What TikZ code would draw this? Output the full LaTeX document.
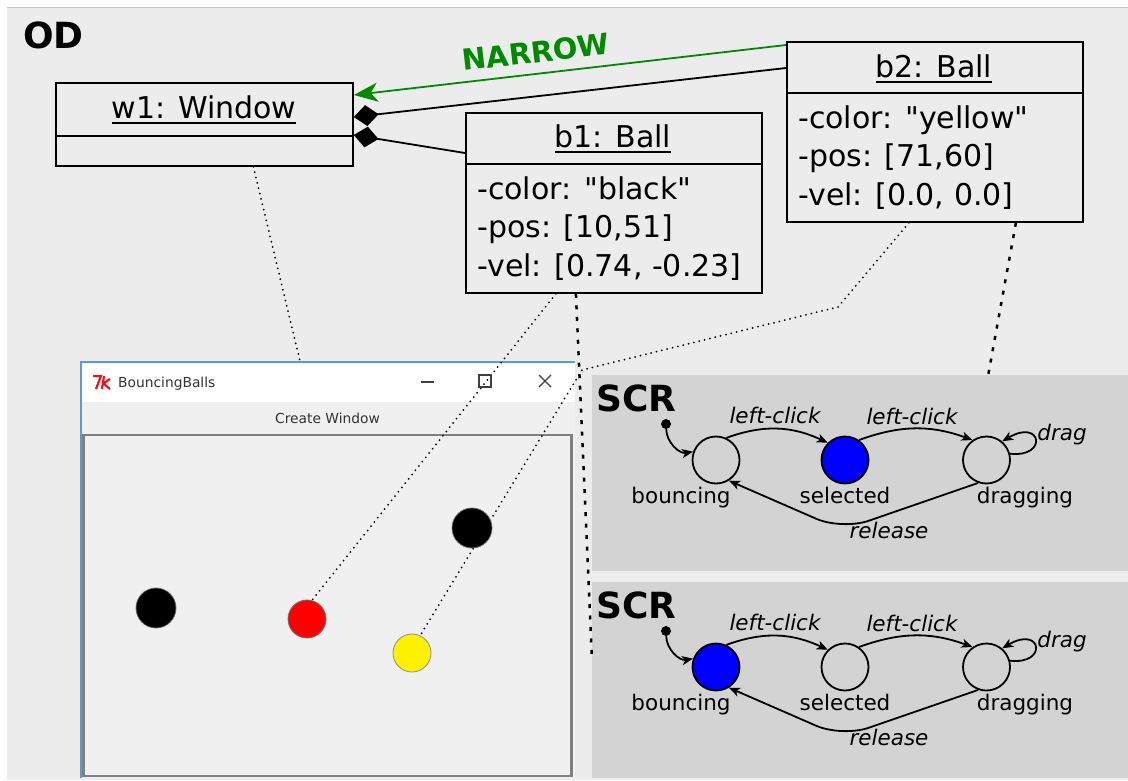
\documentclass[tikz,border=0pt]{standalone}
\usepackage{fontspec}
\setmainfont{DejaVu Sans}[Ligatures=TeXOff]
\usetikzlibrary{arrows.meta,calc}
\definecolor{bgc}{HTML}{ECECEC}
\definecolor{panelc}{HTML}{D3D3D3}
\definecolor{canvc}{HTML}{F0F0F0}
\definecolor{winblue}{HTML}{5B9BD5}
\definecolor{narrowc}{HTML}{008A00}
\definecolor{tkred}{HTML}{E8141C}
\newcommand{\myul}[1]{\setbox0=\hbox{#1}\rlap{\raisebox{-5.5pt}{\rule{\wd0}{2pt}}}\box0}
\pgfdeclarelayer{back}
\pgfdeclarelayer{lines}
\pgfsetlayers{back,lines,main}
\begin{document}
\begin{tikzpicture}[x=1pt,y=-1pt,
 boxn/.style={draw, line width=1.8pt, inner sep=0, anchor=north west},
 bline/.style={line width=1.8pt},
 titlef/.style={font=\fontsize{30}{36}\selectfont, inner sep=0, anchor=base},
 attrf/.style={font=\fontsize{30}{36}\selectfont, inner sep=0, anchor=base west},
 fdot/.style={line width=2pt, dash pattern=on 0pt off 5.5pt, line cap=round},
 hdot/.style={line width=2.5pt, dash pattern=on 4pt off 7.5pt},
 ball/.style={circle, inner sep=0, minimum size=#1, line width=0.8pt},
 state/.style={circle, draw, line width=1.8pt, minimum size=47pt, inner sep=0},
 slab/.style={font=\fontsize{21.5}{26}\selectfont, inner sep=0, anchor=base},
 elab/.style={font=\fontsize{21.5}{26}\selectfont\itshape, inner sep=0, anchor=base},
 sarr/.style={line width=1.8pt, -{Stealth[length=11pt,width=9pt,inset=3pt]}},
 big/.style={font=\fontsize{36}{40}\selectfont\bfseries, inner sep=0, anchor=base west},
 winf/.style={font=\fontsize{13.8}{16}\selectfont, inner sep=0, text=black!80},
 icon/.style={line width=1.3pt, black!75},
]
\useasboundingbox (0,0) rectangle (1128,780);
\begin{pgfonlayer}{back}
\fill[white] (0,0) rectangle (1128,780);
\fill[bgc] (7,7) rectangle (1128,780);
\draw[line width=1pt, black!22] (7,7) -- (1128,7);
% SCR panels
\node[fill=panelc, inner sep=0, anchor=north west, minimum width=536pt, minimum height=196pt] (scr1) at (592,375) {};
\node[fill=panelc, inner sep=0, anchor=north west, minimum width=536pt, minimum height=196pt] (scr2) at (592,582) {};
% window
\node[fill=canvc, inner sep=0, anchor=north west, minimum width=494pt, minimum height=416pt] (win) at (81,362) {};
\fill[white] (81,362) rectangle (575,402);
\draw[line width=2.5pt, black!50] (83.5,435) rectangle (571.5,776);
\draw[line width=1.5pt, winblue] (575,362) -- (81,362) -- (81,778);
\end{pgfonlayer}

% window contents
\node[winf, anchor=base] (menu) at (327.5,423) {Create Window};
\node[winf, anchor=base west] (wtitle) at (118,387) {BouncingBalls};
\draw[line width=2.2pt, tkred] (93,376) -- (101,376) -- (96,389);
\draw[line width=2.2pt, tkred] (104,376) -- (102,389) (110,379) -- (103.5,383.5) -- (110,389);
\draw[icon] (421,382) -- (434,382);
\draw[icon] (479,375) rectangle (491,387);
\draw[icon] (539,375) -- (551,387) (539,387) -- (551,375);

% balls
\node[ball=40pt, fill=black, draw=black!60] (blk1) at (156,608) {};
\node[ball=38pt, fill=red, draw=black!55] (red) at (307,619) {};
\node[ball=38pt, fill=yellow, draw=black!45] (yel) at (412,653) {};
\node[ball=40pt, fill=black, draw=black!60] (blk2) at (472,528) {};

% OD
\node[big] (od) at (23,48) {OD};

% UML boxes
\node[boxn, minimum width=297pt, minimum height=83pt] (w1) at (55,82) {};
\draw[bline] ([yshift=-54pt]w1.north west) -- ([yshift=-54pt]w1.north east);
\node[titlef] (w1t) at (204,118) {\myul{w1: Window}};

\node[boxn, minimum width=296pt, minimum height=180pt] (b1) at (465,112) {};
\draw[bline] ([yshift=-52pt]b1.north west) -- ([yshift=-52pt]b1.north east);
\node[titlef] (b1t) at (613,147) {\myul{b1: Ball}};
\node[attrf] (b1c) at (477,199) {-color: "black"};
\node[attrf] (b1p) at (477,237.5) {-pos: [10,51]};
\node[attrf] (b1v) at (477,276) {-vel: [0.74, -0.23]};

\node[boxn, minimum width=296pt, minimum height=180pt] (b2) at (786,41) {};
\draw[bline] ([yshift=-52pt]b2.north west) -- ([yshift=-52pt]b2.north east);
\node[titlef] (b2t) at (934,77) {\myul{b2: Ball}};
\node[attrf] (b2c) at (798,128) {-color: "yellow"};
\node[attrf] (b2p) at (798,166.5) {-pos: [71,60]};
\node[attrf] (b2v) at (798,205) {-vel: [0.0, 0.0]};

% associations
\draw[narrowc, line width=1.8pt, -{Stealth[length=24pt,width=19pt,inset=7pt]}] ([yshift=-4pt]b2.north west) -- ([yshift=-13pt]w1.north east);
\node[font=\fontsize{29}{34}\selectfont\bfseries, text=narrowc, rotate=6.6, inner sep=0] (narrow) at (536,52) {NARROW};
\draw[line width=1.8pt, {Diamond[length=25pt,width=21pt]}-] ([yshift=-35pt]w1.north east) -- ([yshift=-27pt]b2.north west);
\draw[line width=1.8pt, {Diamond[length=25pt,width=21pt]}-] ([yshift=-53pt]w1.north east) -- ([yshift=-41pt]b1.north west);

% dotted links
\coordinate (k1) at (838,307);
\coordinate (k2) at (582,370);
\begin{pgfonlayer}{lines}
\draw[fdot] ([xshift=49pt]w1.south) -- ([xshift=-28pt]win.north);
\draw[fdot] ([xshift=-58pt]b1.south) -- (red.75);
\draw[fdot] ([xshift=-26pt]b2.south) -- (k1) -- (k2) -- (yel.65);
\draw[hdot] ([xshift=-38pt]b1.south) -- ([yshift=20pt]scr2.west);
\draw[hdot] ([xshift=81pt]b2.south) -- ([xshift=128pt]scr1.north);
\end{pgfonlayer}

% state machines
\foreach \k/\sh/\fb/\fs in {1/0/none/blue,2/207/blue/none}{
\begin{scope}[shift={(0,\sh)}]
\node[big] (scrl\k) at (596,411) {SCR};
\node[circle, fill=black, inner sep=0, minimum size=10pt] (i\k) at (666,424) {};
\node[state, fill=\fb] (bo\k) at (716,460) {};
\node[state, fill=\fs] (se\k) at (845,460) {};
\node[state] (dr\k) at (986.5,460) {};
\node[slab] (lbo\k) at (681,503) {bouncing};
\node[slab] (lse\k) at (845,503) {selected};
\node[slab] (ldr\k) at (1025,503) {dragging};
\node[elab] (lc1\k) at (775,423) {left-click};
\node[elab] (lc2\k) at (912,424) {left-click};
\node[elab] (ldg\k) at (1062,440) {drag};
\node[elab] (lrl\k) at (889,538) {release};
\coordinate (rel\k) at (842,530);
\draw[sarr] (i\k) to[out=-88,in=190] (bo\k.160);
\draw[sarr] (bo\k.65) to[out=20,in=155] (se\k.135);
\draw[sarr] (se\k.55) to[out=20,in=160] (dr\k.125);
\draw[sarr] (dr\k.15) .. controls (1048,458) and (1042,418) .. (dr\k.50);
\draw[sarr, rounded corners=28pt] (dr\k.250) -- (rel\k) -- (bo\k.-58);
\end{scope}
}
\end{tikzpicture}
\end{document}
